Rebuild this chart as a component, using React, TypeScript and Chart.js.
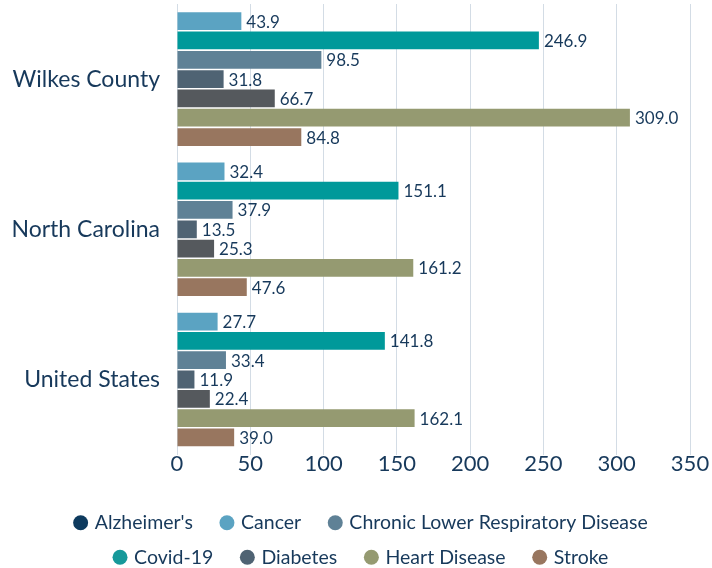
import React, { useEffect, useRef } from "react";
import { Chart, registerables } from "chart.js";

Chart.register(...registerables);

const categories = ["Wilkes County", "North Carolina", "United States"];
const tickValues = [0, 50, 100, 150, 200, 250, 300, 350];

// series in the order the bars are drawn within each group
const cancer = [43.9, 32.4, 27.7];
const covid = [246.9, 151.1, 141.8];
const clrd = [98.5, 37.9, 33.4];
const diabetes = [31.8, 13.5, 11.9];
const alzheimers = [66.7, 25.3, 22.4];
const heart = [309.0, 161.2, 162.1];
const stroke = [84.8, 47.6, 39.0];

const barSeries = [
  { name: "Cancer", data: cancer, color: "#5ba3c2" },
  { name: "Covid-19", data: covid, color: "#00999a" },
  { name: "Chronic Lower Respiratory Disease", data: clrd, color: "#5f8196" },
  { name: "Diabetes", data: diabetes, color: "#4f6373" },
  { name: "Alzheimer's", data: alzheimers, color: "#55595d" },
  { name: "Heart Disease", data: heart, color: "#959a71" },
  { name: "Stroke", data: stroke, color: "#98765f" },
];

// legend entries in display order; rowEnd marks the last entry on each line
const legendNames = ["Alzheimer's", "Cancer", "Chronic Lower Respiratory Disease", "Covid-19", "Diabetes", "Heart Disease", "Stroke"];
const legendColors = ["#0d3a5e", "#5ba3c2", "#5f8196", "#16999a", "#4f6373", "#959a71", "#98765f"];
const legendRowEnd = [false, false, true, false, false, false, true];

const TEXT = "#17395b";
const GRID = "#d3dce5";
const FONT = "Lato, 'Open Sans', sans-serif";

const valueLabels = {
  id: "valueLabels",
  afterLayout(chart: any) {
    // let the category labels extend into the left padding without clipping
    const y = chart.scales.y;
    if (y) y.left = 0;
  },
  afterDatasetsDraw(chart: any) {
    const ctx = chart.ctx;
    ctx.save();
    ctx.fillStyle = TEXT;
    ctx.font = `17px ${FONT}`;
    ctx.textAlign = "left";
    ctx.textBaseline = "middle";
    chart.data.datasets.forEach((ds: any, i: number) => {
      const meta = chart.getDatasetMeta(i);
      if (meta.hidden) return;
      meta.data.forEach((el: any, j: number) => {
        const v = ds.data[j];
        if (v == null) return;
        ctx.fillText(Number(v).toFixed(1), el.x + 5, el.y + 1);
      });
    });
    ctx.restore();
  },
};

export default function App() {
  const ref = useRef<HTMLCanvasElement | null>(null);

  useEffect(() => {
    document.body.style.margin = "0";
    const canvas = ref.current;
    if (!canvas) return;
    const chart = new Chart(canvas, {
      type: "bar",
      data: {
        labels: categories,
        datasets: barSeries.map((s) => ({
          label: s.name,
          data: s.data,
          backgroundColor: s.color,
          borderWidth: 0,
          categoryPercentage: 0.9,
          barPercentage: 0.92,
        })),
      },
      options: {
        indexAxis: "y",
        animation: false,
        responsive: false,
        maintainAspectRatio: false,
        layout: { padding: { top: 4, left: 34, right: 22, bottom: -9 } },
        scales: {
          x: {
            min: 0,
            max: 350,
            afterBuildTicks: (axis: any) => {
              axis.ticks = tickValues.map((v) => ({ value: v }));
            },
            afterFit: (axis: any) => {
              axis.height += 25;
            },
            grid: { color: GRID, drawTicks: false, lineWidth: 1 },
            border: { display: false },
            ticks: {
              color: TEXT,
              font: { family: FONT, size: 22 },
              padding: -4,
            },
          },
          y: {
            afterFit: (axis: any) => {
              axis.width = 143;
            },
            grid: {
              display: true,
              drawOnChartArea: false,
              drawTicks: true,
              tickLength: 17,
              color: "rgba(0,0,0,0)",
            },
            border: { display: true, color: GRID },
            ticks: {
              color: TEXT,
              font: { family: FONT, size: 23, lineHeight: 0.3 },
              padding: 0,
            },
          },
        },
        plugins: {
          tooltip: { enabled: false },
          legend: {
            position: "bottom",
            labels: {
              usePointStyle: true,
              pointStyle: "circle",
              boxWidth: 8.7,
              boxHeight: 10.6,
              padding: 15,
              color: TEXT,
              font: { family: FONT, size: 19.5 },
              generateLabels: () =>
                legendNames.map((name, i) => ({
                  text: legendRowEnd[i] ? name : name + "\u2002 ",
                  fillStyle: legendColors[i],
                  strokeStyle: legendColors[i],
                  lineWidth: 0,
                  pointStyle: "circle",
                  hidden: false,
                  fontColor: TEXT,
                  datasetIndex: barSeries.findIndex((s) => s.name === name),
                })),
            },
          },
        },
      },
      plugins: [valueLabels],
    } as any);
    return () => chart.destroy();
  }, []);

  return (
    <div style={{ width: 712, height: 568 }}>
      <canvas ref={ref} width={712} height={568} style={{ display: "block" }} />
    </div>
  );
}
